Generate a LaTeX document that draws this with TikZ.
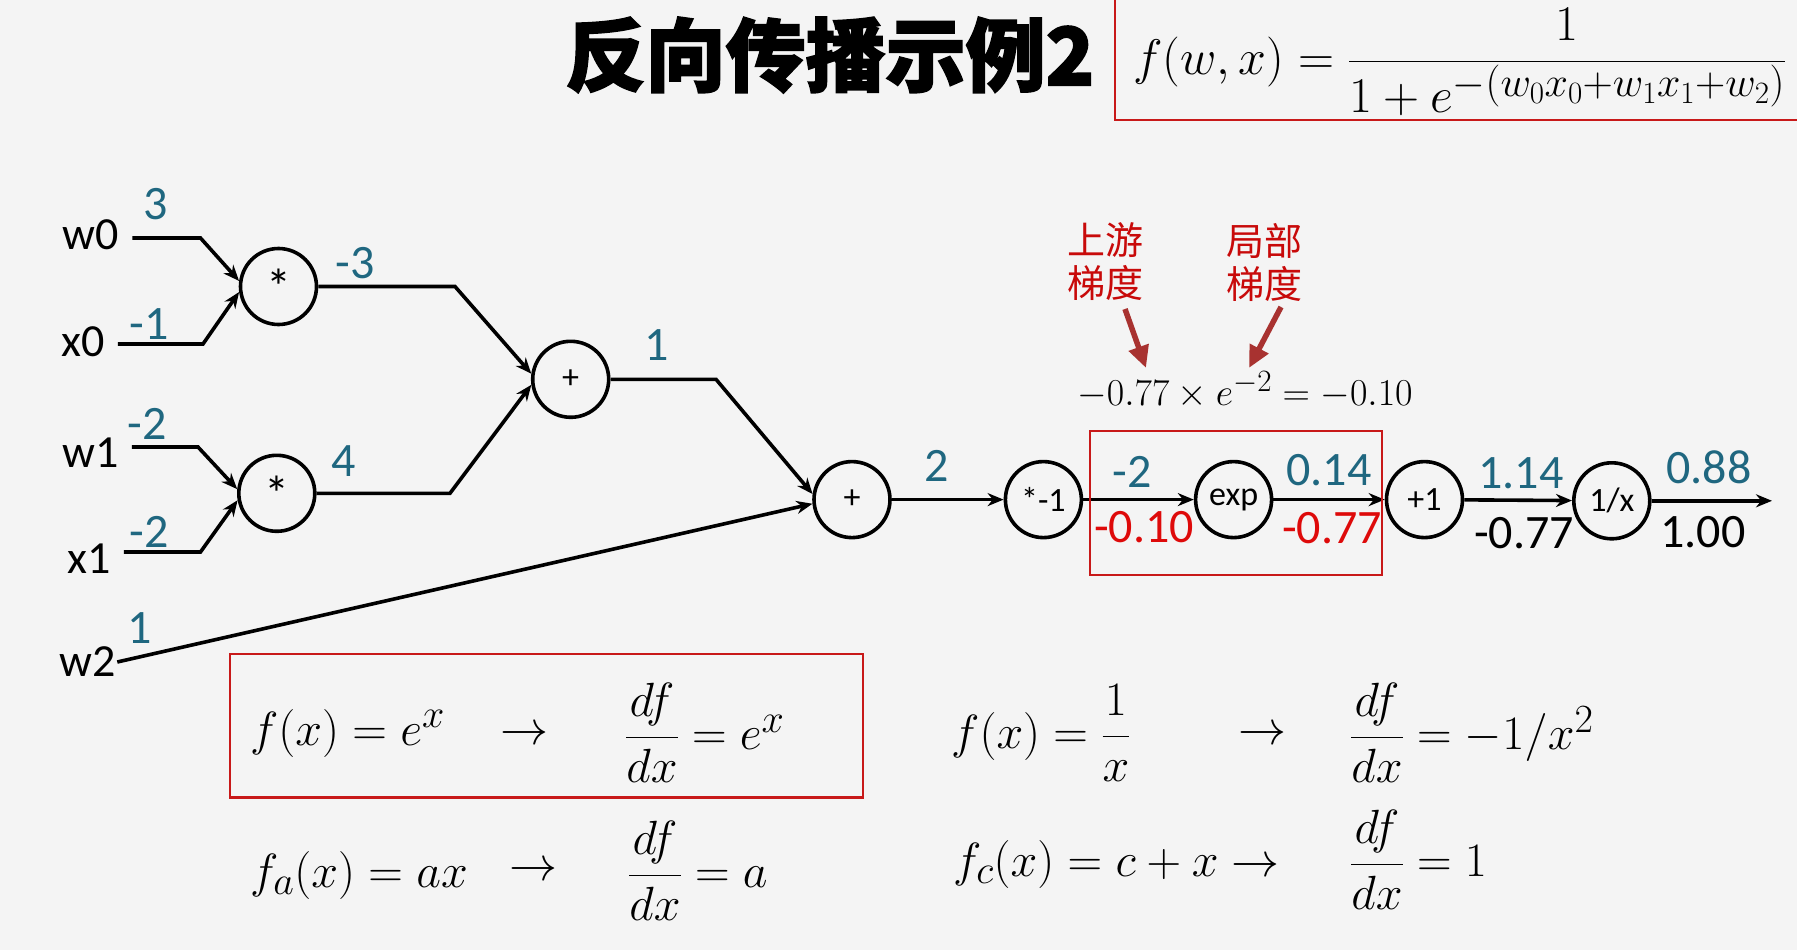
\RequirePackage{fix-cm}
\documentclass[tikz,border=0pt]{standalone}
\usepackage{amsmath}
\usepackage[no-math]{fontspec}
\newfontfamily\carl{Carlito}
\newfontfamily\cjk{Noto Sans CJK SC}
\newfontfamily\cjkt[FakeBold=2]{Noto Sans CJK SC}
\usetikzlibrary{arrows.meta}
\DeclareMathSizes{50}{50}{42}{31}
\DeclareMathSizes{48}{48}{40}{30}
\DeclareMathSizes{38}{38}{31}{24}
\definecolor{bg}{RGB}{244,244,244}
\definecolor{tealv}{RGB}{31,103,128}
\definecolor{redv}{RGB}{222,10,10}
\definecolor{boxred}{RGB}{200,25,25}
\definecolor{annred}{RGB}{168,50,48}
\definecolor{cjkred}{RGB}{200,10,10}
\begin{document}
\begin{tikzpicture}[x=1pt,y=-1pt,
 op/.style={circle,draw,line width=3.6pt,minimum size=76pt,inner sep=0pt,font=\carl\fontsize{34}{36}\selectfont},
 opsmall/.style={op,font=\carl\fontsize{34}{36}\selectfont},
 opmul/.style={op,font=\carl\fontsize{50}{50}\selectfont},
 inlab/.style={font=\carl\fontsize{46}{48}\selectfont,inner ysep=6pt,inner xsep=13pt},
 val/.style={font=\carl\fontsize{48}{50}\selectfont,text=tealv,inner sep=0pt},
 gradr/.style={font=\carl\fontsize{48}{50}\selectfont,text=redv,inner sep=0pt},
 gradk/.style={font=\carl\fontsize{48}{50}\selectfont,text=black,inner sep=0pt},
 wire/.style={line width=3.6pt},
 arr/.style={wire,-{Stealth[length=16pt,width=13pt]}},
 ann/.style={font=\cjk\fontsize{38}{43}\selectfont,text=cjkred,align=center,inner sep=0pt},
 annarr/.style={draw=annred,line width=5.5pt,-{Triangle[length=22pt,width=20pt]}},
 hl/.style={draw=boxred,line width=2.4pt},
 mathl/.style={font=\fontsize{48}{52}\selectfont,inner sep=0pt},
 mathtop/.style={font=\fontsize{50}{54}\selectfont,inner sep=0pt}
]
\fill[bg] (0,0) rectangle (1797,950);
\useasboundingbox (0,0) rectangle (1797,950);

% title and top formula
\node[font=\cjkt\bfseries\fontsize{80}{80}\selectfont,inner sep=0pt] (title) at (830,55) {反向传播示例2};
\draw[hl] (1115,-10) rectangle (1810,120);
\node[mathtop,anchor=west] (fwx) at (1133,62) {$f(w,x) = \dfrac{1}{1+e^{-(w_0x_0+w_1x_1+w_2)}}$};

% operation nodes
\node[opmul] (mul0) at (278.5,286.5) {*};
\node[opmul] (mul1) at (276.8,493.3) {*};
\node[opsmall] (plus0) at (570.7,379.3) {+};
\node[opsmall] (plus1) at (852,499.6) {+};
\node[op] (neg) at (1043.4,499.6) {*-1};
\node[op] (exp) at (1233.6,499.6) {exp};
\node[op] (inc) at (1424.5,499.6) {+1};
\node[op] (inv) at (1611.8,500.8) {1/x};

% inputs
\node[inlab] (w0) at (91,235) {w0};
\node[inlab] (x0) at (83,342) {x0};
\node[inlab] (w1) at (90.5,452.7) {w1};
\node[inlab] (x1) at (89,559) {x1};
\node[inlab,inner xsep=1pt] (w2) at (88,662) {w2};

\coordinate (w0b) at (200.5,238);
\coordinate (x0b) at (203,344);
\coordinate (w1b) at (198,447);
\coordinate (x1b) at (200.5,552);
\coordinate (m0b) at (455,286.5);
\coordinate (m1b) at (450,493.3);
\coordinate (p0b) at (716,379.3);
\coordinate (outp) at (1772,500.8);

\draw[arr] (w0.east |- w0b) -- (w0b) -- (mul0.172);
\draw[arr] (x0.east |- x0b) -- (x0b) -- (mul0.188);
\draw[arr] (w1.east |- w1b) -- (w1b) -- (mul1.174);
\draw[arr] (x1.east |- x1b) -- (x1b) -- (mul1.190);
\draw[arr] (mul0.east) -- (m0b) -- (plus0.172);
\draw[arr] (mul1.east) -- (m1b) -- (plus0.188);
\draw[arr] (plus0.east) -- (p0b) -- (plus1.172);
\draw[arr] (w2.east) -- (plus1.186);
\draw[arr] (plus1) -- (neg);
\draw[arr] (neg) -- (exp);
\draw[arr] (exp) -- (inc);
\draw[arr] (inc) -- (inv);
\draw[arr] (inv.east) -- (outp);

% values
\node[val] (v3) at (156,204) {3};
\node[val] (vm1) at (149,324) {-1};
\node[val] (vm2a) at (147,424) {-2};
\node[val] (vm2b) at (149,532) {-2};
\node[val] (v1a) at (140,628) {1};
\node[val] (vm3) at (355,263.5) {-3};
\node[val] (v4) at (344,461) {4};
\node[val] (v1b) at (657,345) {1};
\node[val] (v2) at (937,466) {2};
\node[val] (vm2c) at (1132,472) {-2};
\node[gradr] (g1) at (1144,527) {-0.10};
\node[val] (v014) at (1329,470) {0.14};
\node[gradr] (g2) at (1332,528) {-0.77};
\node[val] (v114) at (1521,473) {1.14};
\node[gradk] (g3) at (1524,533) {-0.77};
\node[val] (v088) at (1709,467.6) {0.88};
\node[gradk] (g4) at (1703,532) {1.00};

% highlight box around exp
\draw[hl] (1090,431) rectangle (1382,575);

% annotations
\node[ann] (up) at (1105,262) {上游\\梯度};
\node[ann] (loc) at (1264,262) {局部\\梯度};
\node[font=\fontsize{38}{40}\selectfont,inner sep=0pt] (eq) at (1245,390) {$-0.77\times e^{-2} = -0.10$};
\coordinate (upt) at (1146,368);
\coordinate (loct) at (1249,368);
\draw[annarr] (1125,309) -- (upt);
\draw[annarr] (1281,307) -- (loct);

% bottom formulas
\draw[hl] (230,654) rectangle (863,797.6);
\node[mathl,anchor=west] (e1) at (250,733) {$f(x) = e^{x}$};
\node[mathl] (a1) at (524,736) {$\rightarrow$};
\node[mathl,anchor=west] (e1d) at (625,733) {$\dfrac{df}{dx} = e^{x}$};
\node[mathl,anchor=west] (e2) at (951,733) {$f(x) = \dfrac{1}{x}$};
\node[mathl] (a2) at (1262,736) {$\rightarrow$};
\node[mathl,anchor=west] (e2d) at (1350,733) {$\dfrac{df}{dx} = -1/x^{2}$};
\node[mathl,anchor=west] (e3) at (250,875) {$f_a(x) = ax$};
\node[mathl] (a3) at (533,872) {$\rightarrow$};
\node[mathl,anchor=west] (e3d) at (628,871) {$\dfrac{df}{dx} = a$};
\node[mathl,anchor=west] (e4) at (953,864) {$f_c(x) = c + x \rightarrow$};
\node[mathl,anchor=west] (e4d) at (1350,860) {$\dfrac{df}{dx} = 1$};
\end{tikzpicture}
\end{document}
